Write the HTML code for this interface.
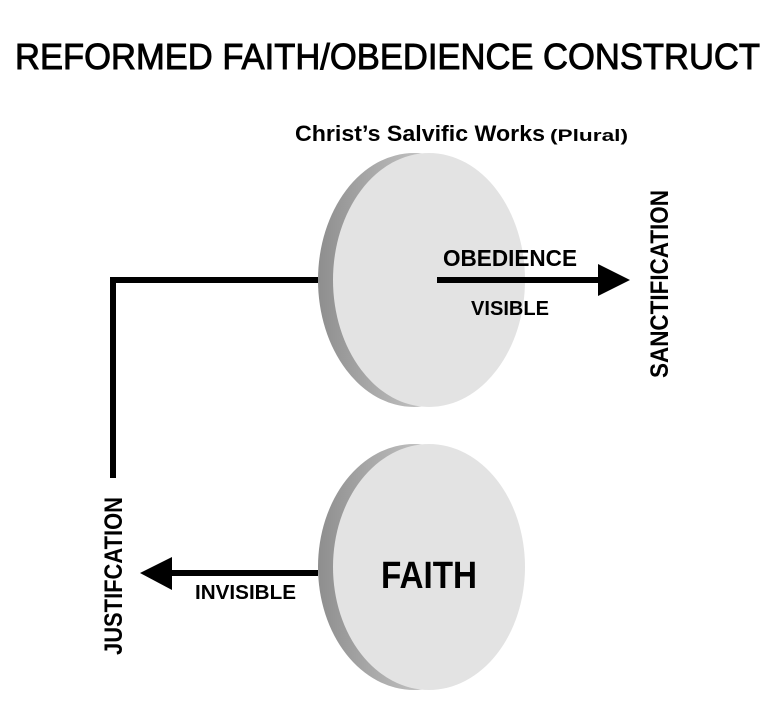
<!DOCTYPE html>
<html><head><meta charset="utf-8"><style>html,body{margin:0;padding:0;background:#fff}svg{display:block}</style></head>
<body>
<svg width="775" height="719" viewBox="0 0 775 719" xmlns="http://www.w3.org/2000/svg" font-family="Liberation Sans, sans-serif">
<defs>
<linearGradient id="rim" x1="0" x2="1" y1="0" y2="0">
<stop offset="0" stop-color="#8e8e8e"/><stop offset="0.5" stop-color="#bdbdbd"/><stop offset="1" stop-color="#d0d0d0"/>
</linearGradient>
</defs>
<text x="15" y="69" font-size="36" stroke="#000" stroke-width="0.9" textLength="745" lengthAdjust="spacingAndGlyphs">REFORMED FAITH/OBEDIENCE CONSTRUCT</text>
<text x="295" y="141" font-size="22" font-weight="bold" textLength="250" lengthAdjust="spacingAndGlyphs">Christ’s Salvific Works</text>
<text x="550" y="141" font-size="17" font-weight="bold" textLength="78" lengthAdjust="spacingAndGlyphs">(Plural)</text>
<polyline points="318,280 113,280 113,478" fill="none" stroke="#000" stroke-width="6"/>
<ellipse cx="414" cy="280" rx="96" ry="127" fill="url(#rim)"/>
<ellipse cx="429" cy="280" rx="96" ry="127" fill="#e3e3e3"/>
<line x1="437" y1="280" x2="600" y2="280" stroke="#000" stroke-width="6"/>
<polygon points="598,264 630,280 598,296" fill="#000"/>
<text x="443" y="266" font-size="23" font-weight="bold" textLength="134" lengthAdjust="spacingAndGlyphs">OBEDIENCE</text>
<text x="471" y="315" font-size="20" font-weight="bold" textLength="78" lengthAdjust="spacingAndGlyphs">VISIBLE</text>
<text transform="translate(668,378) rotate(-90)" font-size="25" font-weight="bold" textLength="188" lengthAdjust="spacingAndGlyphs">SANCTIFICATION</text>
<ellipse cx="414" cy="567" rx="96" ry="123" fill="url(#rim)"/>
<ellipse cx="429" cy="567" rx="96" ry="123" fill="#e3e3e3"/>
<text x="381" y="588" font-size="38" font-weight="bold" textLength="96" lengthAdjust="spacingAndGlyphs">FAITH</text>
<line x1="318" y1="573" x2="170" y2="573" stroke="#000" stroke-width="6"/>
<polygon points="172,557 140,573 172,590" fill="#000"/>
<text x="195" y="599" font-size="20" font-weight="bold" textLength="101" lengthAdjust="spacingAndGlyphs">INVISIBLE</text>
<text transform="translate(122,655) rotate(-90)" font-size="25" font-weight="bold" textLength="158" lengthAdjust="spacingAndGlyphs">JUSTIFCATION</text>
</svg>
</body></html>
